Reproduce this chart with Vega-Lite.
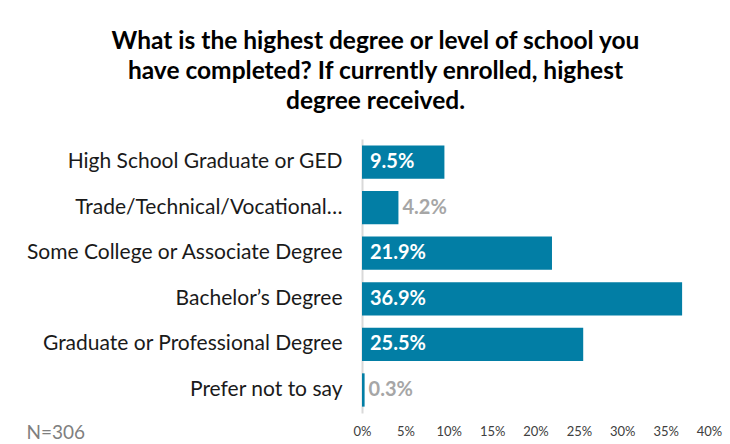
{
  "$schema": "https://vega.github.io/schema/vega-lite/v6.json",
  "autosize": {"type": "none"},
  "width": 347,
  "height": 274,
  "padding": {"left": 362, "top": 139, "right": 21, "bottom": 31},
  "background": "white",
  "title": {
    "text": ["What is the highest degree or level of school you", "have completed? If currently enrolled, highest", "degree received."],
    "font": "Lato",
    "fontSize": 24.5,
    "fontWeight": "bold",
    "color": "#000000",
    "lineHeight": 30,
    "anchor": "middle",
    "dx": -160,
    "offset": 25
  },
  "data": {
    "values": [
      {"category": "High School Graduate or GED", "value": 9.5, "label": "9.5%"},
      {"category": "Trade/Technical/Vocational…", "value": 4.2, "label": "4.2%"},
      {"category": "Some College or Associate Degree", "value": 21.9, "label": "21.9%"},
      {"category": "Bachelor’s Degree", "value": 36.9, "label": "36.9%"},
      {"category": "Graduate or Professional Degree", "value": 25.5, "label": "25.5%"},
      {"category": "Prefer not to say", "value": 0.3, "label": "0.3%"}
    ]
  },
  "encoding": {
    "y": {
      "field": "category",
      "type": "nominal",
      "sort": null,
      "scale": {"paddingInner": 0.27, "paddingOuter": 0.14},
      "axis": {
        "title": null,
        "ticks": false,
        "labelFont": "Lato",
        "labelFontSize": 21,
        "labelColor": "#1a1a1a",
        "labelPadding": 20,
        "labelLimit": 400,
        "domainColor": "#d9d9d9",
        "domainWidth": 2
      }
    }
  },
  "layer": [
    {
      "mark": {"type": "bar", "color": "#027ea5"},
      "encoding": {
        "x": {
          "field": "value",
          "type": "quantitative",
          "scale": {"domain": [0, 40]},
          "axis": {
            "values": [0, 5, 10, 15, 20, 25, 30, 35, 40],
            "labelExpr": "datum.value + '%'",
            "grid": false,
            "ticks": false,
            "domain": false,
            "labelFont": "Lato",
            "labelFontSize": 13,
            "labelColor": "#404040",
            "labelPadding": 12,
            "labelFlush": false,
            "title": "N=306",
            "titleFont": "Lato",
            "titleFontSize": 19,
            "titleFontWeight": "normal",
            "titleColor": "#7f7f7f",
            "titleAnchor": "start",
            "titleAlign": "left",
            "titleX": -336,
            "titleY": 19,
            "titleBaseline": "middle"
          }
        }
      }
    },
    {
      "transform": [{"filter": "datum.value >= 5"}],
      "mark": {"type": "text", "align": "left", "dx": 8, "font": "Lato", "fontSize": 20, "fontWeight": "bold", "color": "white"},
      "encoding": {
        "x": {"datum": 0, "type": "quantitative"},
        "text": {"field": "label", "type": "nominal"}
      }
    },
    {
      "transform": [{"filter": "datum.value < 5"}],
      "mark": {"type": "text", "align": "left", "dx": 4, "font": "Lato", "fontSize": 20, "fontWeight": "bold", "color": "#a6a6a6"},
      "encoding": {
        "x": {"field": "value", "type": "quantitative"},
        "text": {"field": "label", "type": "nominal"}
      }
    }
  ],
  "config": {"view": {"stroke": null}}
}
